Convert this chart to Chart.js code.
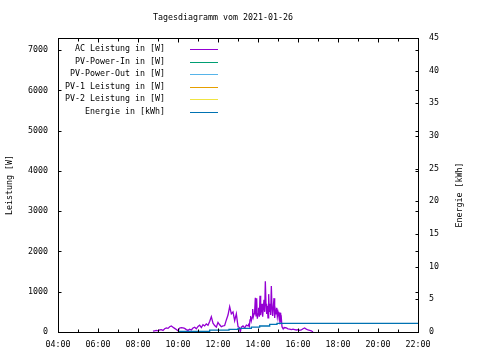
<!DOCTYPE html>
<html><head><meta charset="utf-8">
<script src="https://cdn.jsdelivr.net/npm/chart.js@4/dist/chart.umd.min.js"></script>
<style>html,body{margin:0;padding:0;background:#fff}#wrap{width:480px;height:360px;position:relative}</style>
</head><body><div id="wrap"><canvas id="c" width="480" height="360"></canvas></div>
<script>
const chartTitle = 'Tagesdiagramm vom 2021-01-26';
const leftAxisTitle = 'Leistung [W]';
const rightAxisTitle = 'Energie [kWh]';
const seriesNames = ['AC Leistung in [W]', 'PV-Power-In in [W]', 'PV-Power-Out in [W]', 'PV-1 Leistung in [W]', 'PV-2 Leistung in [W]', 'Energie in [kWh]'];
const seriesColors = ['#9400d3', '#009e73', '#56b4e9', '#e69f00', '#f0e442', '#0072b2'];

const acTimes = [
 '08:45','08:50','08:55','09:00','09:05','09:10','09:15','09:20','09:25','09:30','09:35','09:40','09:45','09:50','09:55',
 '10:00','10:05','10:10','10:15','10:20','10:25','10:30','10:35','10:40','10:45','10:50','10:55',
 '11:00','11:05','11:10','11:15','11:20','11:25','11:30','11:35','11:40','11:45','11:50','11:55',
 '12:00','12:05','12:10','12:15','12:20','12:25','12:30','12:35','12:40','12:45','12:50','12:55',
 '13:00','13:04','13:07','13:10','13:15','13:20','13:25',
 '13:30','13:32','13:34','13:36','13:38','13:40','13:42','13:44','13:46','13:48','13:50','13:52','13:54','13:56','13:58',
 '14:00','14:02','14:04','14:06','14:08','14:10','14:12','14:14','14:16','14:18','14:20','14:22','14:24','14:26','14:28',
 '14:30','14:32','14:34','14:36','14:38','14:40','14:42','14:44','14:46','14:48','14:50','14:52','14:54','14:56','14:58',
 '15:00','15:02','15:04','15:06','15:08','15:10','15:12','15:14','15:16',
 '15:20','15:25','15:30','15:35','15:40','15:45','15:50','15:55',
 '16:00','16:05','16:10','16:15','16:20','16:25','16:30','16:35','16:40','16:45'];
const acValues = [
 20,30,40,30,50,60,40,80,100,90,130,150,120,90,60,
 30,100,110,100,90,60,40,70,50,100,120,80,
 140,170,110,180,150,200,170,260,380,220,160,120,
 240,180,130,150,160,300,420,630,450,500,280,450,
 140,110,0,120,150,100,170,
 150,170,140,300,400,280,350,570,380,450,520,850,400,840,330,
 450,600,380,900,420,550,700,380,600,800,500,1260,700,450,650,
 350,940,500,700,420,1140,600,400,640,840,350,550,450,600,380,
 500,420,300,480,290,350,130,100,80,
 110,100,80,70,60,70,60,50,
 60,40,50,80,100,70,50,40,30,0];

const energyTimes = ['10:03','11:35','12:33','13:00','13:40','14:05','14:35','14:57','15:57','22:00'];
const energyValues = [0,0.1,0.3,0.4,0.55,0.75,0.92,1.18,1.33,1.33];

const xTickHours = [4,5,6,7,8,9,10,11,12,13,14,15,16,17,18,19,20,21,22];
const xTickLabels = {4:'04:00',6:'06:00',8:'08:00',10:'10:00',12:'12:00',14:'14:00',16:'16:00',18:'18:00',20:'20:00',22:'22:00'};
const yTicks = [0,1000,2000,3000,4000,5000,6000,7000];
const y2Ticks = [0,5,10,15,20,25,30,35,40,45];

const FONT = '"DejaVu Sans Mono", monospace';
const FSIZE = 8.3;

function toHours(s){ const p = s.split(':'); return +p[0] + (+p[1])/60; }
const acData = acTimes.map((t,i)=>({x: toHours(t), y: acValues[i]}));
const energyData = energyTimes.map((t,i)=>({x: toHours(t), y: energyValues[i]}));

const gnuplotDecor = {
  id: 'gnuplotDecor',
  beforeDraw(chart){
    const ctx = chart.ctx;
    ctx.save(); ctx.fillStyle = '#fff'; ctx.fillRect(0,0,chart.width,chart.height); ctx.restore();
  },
  afterDraw(chart){
    const ctx = chart.ctx, a = chart.chartArea;
    const xs = chart.scales.x, ys = chart.scales.y, y2s = chart.scales.y2;
    ctx.save();
    ctx.strokeStyle = '#000'; ctx.lineWidth = 1;
    const L = Math.round(a.left)+0.5, R = Math.round(a.right)+0.5, T = Math.round(a.top)+0.5, B = Math.round(a.bottom)+0.5;
    ctx.strokeRect(L, T, R-L, B-T);
    ctx.beginPath();
    xTickHours.forEach(h=>{
      const px = Math.round(xs.getPixelForValue(h))+0.5;
      const len = (h % 2 === 0) ? 4 : 3;
      ctx.moveTo(px, B); ctx.lineTo(px, B-len);
      ctx.moveTo(px, T); ctx.lineTo(px, T+len);
    });
    yTicks.forEach(v=>{
      const py = Math.round(ys.getPixelForValue(v))+0.5;
      ctx.moveTo(L, py); ctx.lineTo(L+3, py);
      ctx.moveTo(R, py); ctx.lineTo(R-3, py);
    });
    y2Ticks.forEach(v=>{
      const py = Math.round(y2s.getPixelForValue(v))+0.5;
      ctx.moveTo(R, py); ctx.lineTo(R-3, py);
    });
    ctx.stroke();

    ctx.fillStyle = '#000';
    ctx.font = FSIZE + 'px ' + FONT;
    ctx.textBaseline = 'middle';
    ctx.textAlign = 'center';
    ctx.fillText(chartTitle, 223, 18);

    ctx.save(); ctx.translate(10, 185); ctx.rotate(-Math.PI/2); ctx.fillText(leftAxisTitle, 0, 0); ctx.restore();
    ctx.save(); ctx.translate(460, 195); ctx.rotate(-Math.PI/2); ctx.fillText(rightAxisTitle, 0, 0); ctx.restore();

    ctx.textAlign = 'right';
    seriesNames.forEach((n,i)=>{
      const yy = 49 + i*12.5;
      ctx.fillStyle = '#000';
      ctx.fillText(n, 165, yy);
      ctx.fillStyle = seriesColors[i];
      ctx.fillRect(190, Math.round(yy), 28, 1);
    });
    ctx.restore();
  }
};

const tickFont = {family: FONT, size: FSIZE};

new Chart(document.getElementById('c'), {
  type: 'line',
  data: {
    datasets: [
      {label: seriesNames[0], data: acData, borderColor: seriesColors[0], borderWidth: 1.3, pointRadius: 0, yAxisID: 'y', tension: 0, order: 1},
      {label: seriesNames[1], data: [], borderColor: seriesColors[1], borderWidth: 1.3, pointRadius: 0, yAxisID: 'y'},
      {label: seriesNames[2], data: [], borderColor: seriesColors[2], borderWidth: 1.3, pointRadius: 0, yAxisID: 'y'},
      {label: seriesNames[3], data: [], borderColor: seriesColors[3], borderWidth: 1.3, pointRadius: 0, yAxisID: 'y'},
      {label: seriesNames[4], data: [], borderColor: seriesColors[4], borderWidth: 1.3, pointRadius: 0, yAxisID: 'y'},
      {label: seriesNames[5], data: energyData, borderColor: seriesColors[5], borderWidth: 1.3, pointRadius: 0, yAxisID: 'y2', stepped: 'after', order: -1}
    ]
  },
  options: {
    responsive: false, animation: false, devicePixelRatio: 1,
    layout: {padding: {top: 38, left: 0, right: 0, bottom: 0}},
    plugins: {legend: {display: false}, title: {display: false}, tooltip: {enabled: false}},
    scales: {
      x: {
        type: 'linear', min: 4, max: 22,
        afterBuildTicks: s => { s.ticks = Object.keys(xTickLabels).map(k=>({value: +k})); },
        afterFit: s => { s.height = 28; },
        grid: {display: false, drawTicks: false}, border: {display: false},
        ticks: {font: tickFont, color: '#000', padding: 8, maxRotation: 0, autoSkip: false,
          callback: v => xTickLabels[v] || ''}
      },
      y: {
        type: 'linear', position: 'left', min: 0, max: 7300,
        afterBuildTicks: s => { s.ticks = yTicks.map(v=>({value: v})); },
        afterFit: s => { s.width = 58; },
        grid: {display: false, drawTicks: false}, border: {display: false},
        ticks: {font: tickFont, color: '#000', padding: 10, callback: v => String(v)}
      },
      y2: {
        type: 'linear', position: 'right', min: 0, max: 45,
        afterBuildTicks: s => { s.ticks = y2Ticks.map(v=>({value: v})); },
        afterFit: s => { s.width = 62; },
        grid: {display: false, drawTicks: false}, border: {display: false},
        ticks: {font: tickFont, color: '#000', padding: 11, callback: v => String(v)}
      }
    }
  },
  plugins: [gnuplotDecor]
});
</script></body></html>
